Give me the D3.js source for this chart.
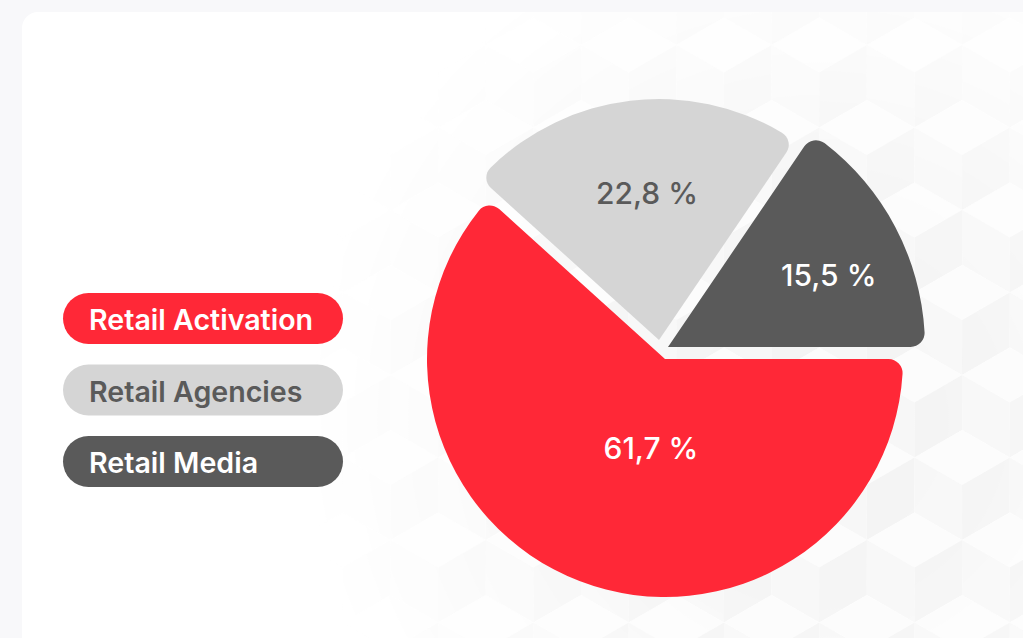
<!DOCTYPE html>
<html>
<head>
<meta charset="utf-8">
<script src="https://cdn.jsdelivr.net/npm/d3@7"></script>
<style>
  html, body { margin: 0; padding: 0; background: #f8f8fa; }
  svg { display: block; }
</style>
</head>
<body>
<svg id="chart" width="1023" height="638"></svg>
<script>
// ---- data ----
const categories = ["Retail Activation", "Retail Agencies", "Retail Media"];
const values = [61.7, 22.8, 15.5];
const valueLabels = ["61,7 %", "22,8 %", "15,5 %"];

// ---- style / layout ----
const sliceColors = ["#FF2837", "#D5D5D5", "#5A5A5A"];
const labelColors = ["#FFFFFF", "#5A5A5A", "#FFFFFF"];
const legendTextColors = ["#FFFFFF", "#5A5A5A", "#FFFFFF"];
const W = 1023, H = 638;
const center = { x: 664, y: 350 };
const sliceOffsets = [[1, 9], [-5, -10], [4, -3]];     // explode shift per slice
const sliceRadius = [238, 241, 257];
const labelPolar = [[189, 90], [-4.7, 147.5], [66, 176]];  // [deg, px] from slice apex

const svg = d3.select("#chart");
const defs = svg.append("defs");

// ---- background card ----
svg.append("rect").attr("x", 0).attr("y", 0).attr("width", W).attr("height", H).attr("fill", "#f8f8fa");
svg.append("rect").attr("x", 22).attr("y", 12).attr("width", W + 40).attr("height", H + 40)
  .attr("rx", 16).attr("fill", "#ffffff");

// faint isometric cube texture, masked to the right / lower area
const grad = defs.append("radialGradient").attr("id", "fade")
  .attr("gradientUnits", "userSpaceOnUse").attr("cx", 820).attr("cy", 420).attr("r", 520);
grad.append("stop").attr("offset", "0%").attr("stop-color", "#fff").attr("stop-opacity", 0.9);
grad.append("stop").attr("offset", "50%").attr("stop-color", "#fff").attr("stop-opacity", 0.6);
grad.append("stop").attr("offset", "100%").attr("stop-color", "#fff").attr("stop-opacity", 0);
const mask = defs.append("mask").attr("id", "texMask");
mask.append("rect").attr("x", 0).attr("y", 0).attr("width", W).attr("height", H).attr("fill", "url(#fade)");
defs.append("clipPath").attr("id", "cardClip").append("rect")
  .attr("x", 22).attr("y", 12).attr("width", W + 40).attr("height", H + 40).attr("rx", 16);

const tex = svg.append("g").attr("mask", "url(#texMask)").attr("clip-path", "url(#cardClip)");
const s = 55, hw = s * Math.sqrt(3) / 2;
const cubes = [];
for (let row = -1; row < 10; row++) {
  for (let col = -1; col < 14; col++) {
    const cx = col * hw * 2 + (row % 2 ? hw : 0) + 200;
    const cy = row * s * 1.5 - 10;
    cubes.push([cx, cy]);
  }
}
const pt = (cx, cy, a) => [cx + s * Math.cos(a), cy + s * Math.sin(a)];
const deg = Math.PI / 180;
tex.selectAll("g.cube").data(cubes).join("g").attr("class", "cube").each(function([cx, cy]) {
  const g = d3.select(this);
  const P = [30, 90, 150, 210, 270, 330].map(a => pt(cx, cy, a * deg));
  const c = [cx, cy];
  const faces = [
    { pts: [P[3], P[4], P[5], c], fill: "#fbfbfb" },
    { pts: [P[1], P[2], P[3], c], fill: "#f5f5f5" },
    { pts: [P[5], P[0], P[1], c], fill: "#f1f1f1" }
  ];
  faces.forEach(f => g.append("path").attr("d", d3.line()(f.pts) + "Z").attr("fill", f.fill));
});

// ---- pie ----
const pie = d3.pie().sort(null).value(d => d)
  .startAngle(Math.PI / 2).endAngle(Math.PI / 2 + 2 * Math.PI);
const arcs = pie(values);

const pieG = svg.append("g").attr("transform", `translate(${center.x},${center.y})`);
const slices = pieG.selectAll("g.slice").data(arcs).join("g").attr("class", "slice")
  .attr("transform", (d, i) => `translate(${sliceOffsets[i][0]},${sliceOffsets[i][1]})`);

slices.append("path")
  .attr("d", (d, i) => d3.arc().innerRadius(0).outerRadius(sliceRadius[i]).cornerRadius(14)(d))
  .attr("fill", (d, i) => sliceColors[i]);

slices.append("text")
  .attr("x", (d, i) => labelPolar[i][1] * Math.sin(labelPolar[i][0] * deg))
  .attr("y", (d, i) => -labelPolar[i][1] * Math.cos(labelPolar[i][0] * deg))
  .attr("text-anchor", "middle")
  .attr("dominant-baseline", "central")
  .attr("font-family", "Inter, 'Noto Sans', sans-serif")
  .attr("font-weight", 500)
  .attr("font-size", 30)
  .attr("fill", (d, i) => labelColors[i])
  .text((d, i) => valueLabels[i]);

// ---- legend ----
const ly = d3.scaleBand().domain(categories).range([293, 487]).paddingInner(0.287).paddingOuter(0);
const legend = svg.append("g").selectAll("g").data(categories).join("g")
  .attr("transform", d => `translate(63,${ly(d)})`);
legend.append("rect")
  .attr("width", 280).attr("height", ly.bandwidth())
  .attr("rx", ly.bandwidth() / 2)
  .attr("fill", (d, i) => sliceColors[i]);
legend.append("text")
  .attr("x", 26).attr("y", 37)
  .attr("font-family", "Inter, 'Noto Sans', sans-serif")
  .attr("font-weight", 600)
  .attr("font-size", 28.6)
  .attr("fill", (d, i) => legendTextColors[i])
  .text(d => d);
</script>
</body>
</html>
